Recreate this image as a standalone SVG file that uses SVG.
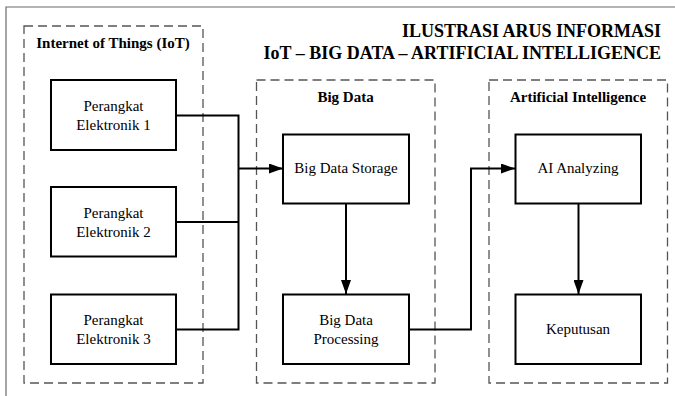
<svg xmlns="http://www.w3.org/2000/svg" width="675" height="396" viewBox="0 0 675 396">
  <style>
    .frame { fill: none; stroke: #6b6b6b; stroke-width: 1.2; }
    .group { fill: none; stroke: #555; stroke-width: 1.3; stroke-dasharray: 9 5; }
    .node { fill: #fff; stroke: #000; stroke-width: 2; }
    .label { font-family: "Liberation Serif", "Times New Roman", serif; font-size: 15px; fill: #000; text-anchor: middle; }
    .heading { font-family: "Liberation Serif", "Times New Roman", serif; font-size: 15px; font-weight: bold; fill: #000; text-anchor: middle; }
    .title { font-family: "Liberation Serif", "Times New Roman", serif; font-size: 18px; font-weight: bold; fill: #000; text-anchor: end; }
    .link { fill: none; stroke: #000; stroke-width: 2; }
  </style>
  <defs>
    <marker id="arrow" viewBox="0 0 14 10" refX="14" refY="5" markerWidth="14" markerHeight="10" markerUnits="userSpaceOnUse" orient="auto">
      <path d="M0,0 L14,5 L0,10 Z" fill="#000"/>
    </marker>
  </defs>

  <rect width="675" height="396" fill="#fff"/>

  <!-- page frame -->
  <path class="frame" d="M6,400 L6,7 L680,7"/>

  <!-- heading -->
  <g id="title">
    <text class="title" x="661" y="37">ILUSTRASI ARUS INFORMASI</text>
    <text class="title" x="661" y="58.5">IoT – BIG DATA – ARTIFICIAL INTELLIGENCE</text>
  </g>

  <!-- grouping regions -->
  <g id="group-iot">
    <rect class="group" x="24" y="26" width="179" height="357"/>
    <text class="heading" x="113" y="48">Internet of Things (IoT)</text>
  </g>
  <g id="group-bigdata">
    <rect class="group" x="256.5" y="80" width="178.5" height="303"/>
    <text class="heading" x="345.5" y="102">Big Data</text>
  </g>
  <g id="group-ai">
    <rect class="group" x="489" y="80" width="178.5" height="303"/>
    <text class="heading" x="578" y="102">Artificial Intelligence</text>
  </g>

  <!-- connectors -->
  <g id="connectors">
    <path class="link" d="M176,115.5 L238.5,115.5 L238.5,329.5 L176,329.5"/>
    <path class="link" d="M176,222 L238.5,222"/>
    <path class="link" d="M238.5,168.5 L283,168.5" marker-end="url(#arrow)"/>
    <path class="link" d="M346,203 L346,294" marker-end="url(#arrow)"/>
    <path class="link" d="M409,329.5 L471,329.5 L471,168.5 L515,168.5" marker-end="url(#arrow)"/>
    <path class="link" d="M578.5,203 L578.5,294" marker-end="url(#arrow)"/>
  </g>

  <!-- nodes -->
  <g id="device-1">
    <rect class="node" x="51" y="80" width="125" height="70"/>
    <text class="label" x="113.5" y="111">Perangkat</text>
    <text class="label" x="113.5" y="130">Elektronik 1</text>
  </g>
  <g id="device-2">
    <rect class="node" x="51" y="187" width="125" height="69.5"/>
    <text class="label" x="113.5" y="217.5">Perangkat</text>
    <text class="label" x="113.5" y="236.5">Elektronik 2</text>
  </g>
  <g id="device-3">
    <rect class="node" x="51" y="294.5" width="125" height="69.5"/>
    <text class="label" x="113.5" y="325">Perangkat</text>
    <text class="label" x="113.5" y="344">Elektronik 3</text>
  </g>
  <g id="bigdata-storage">
    <rect class="node" x="283" y="134.5" width="126" height="69"/>
    <text class="label" x="346" y="173">Big Data Storage</text>
  </g>
  <g id="bigdata-processing">
    <rect class="node" x="283" y="294.5" width="126" height="69.5"/>
    <text class="label" x="346" y="325">Big Data</text>
    <text class="label" x="346" y="344">Processing</text>
  </g>
  <g id="ai-analyzing">
    <rect class="node" x="515.5" y="134.5" width="125.5" height="69"/>
    <text class="label" x="578" y="173">AI Analyzing</text>
  </g>
  <g id="decision">
    <rect class="node" x="515.5" y="294.5" width="125.5" height="69.5"/>
    <text class="label" x="578" y="334">Keputusan</text>
  </g>
</svg>
